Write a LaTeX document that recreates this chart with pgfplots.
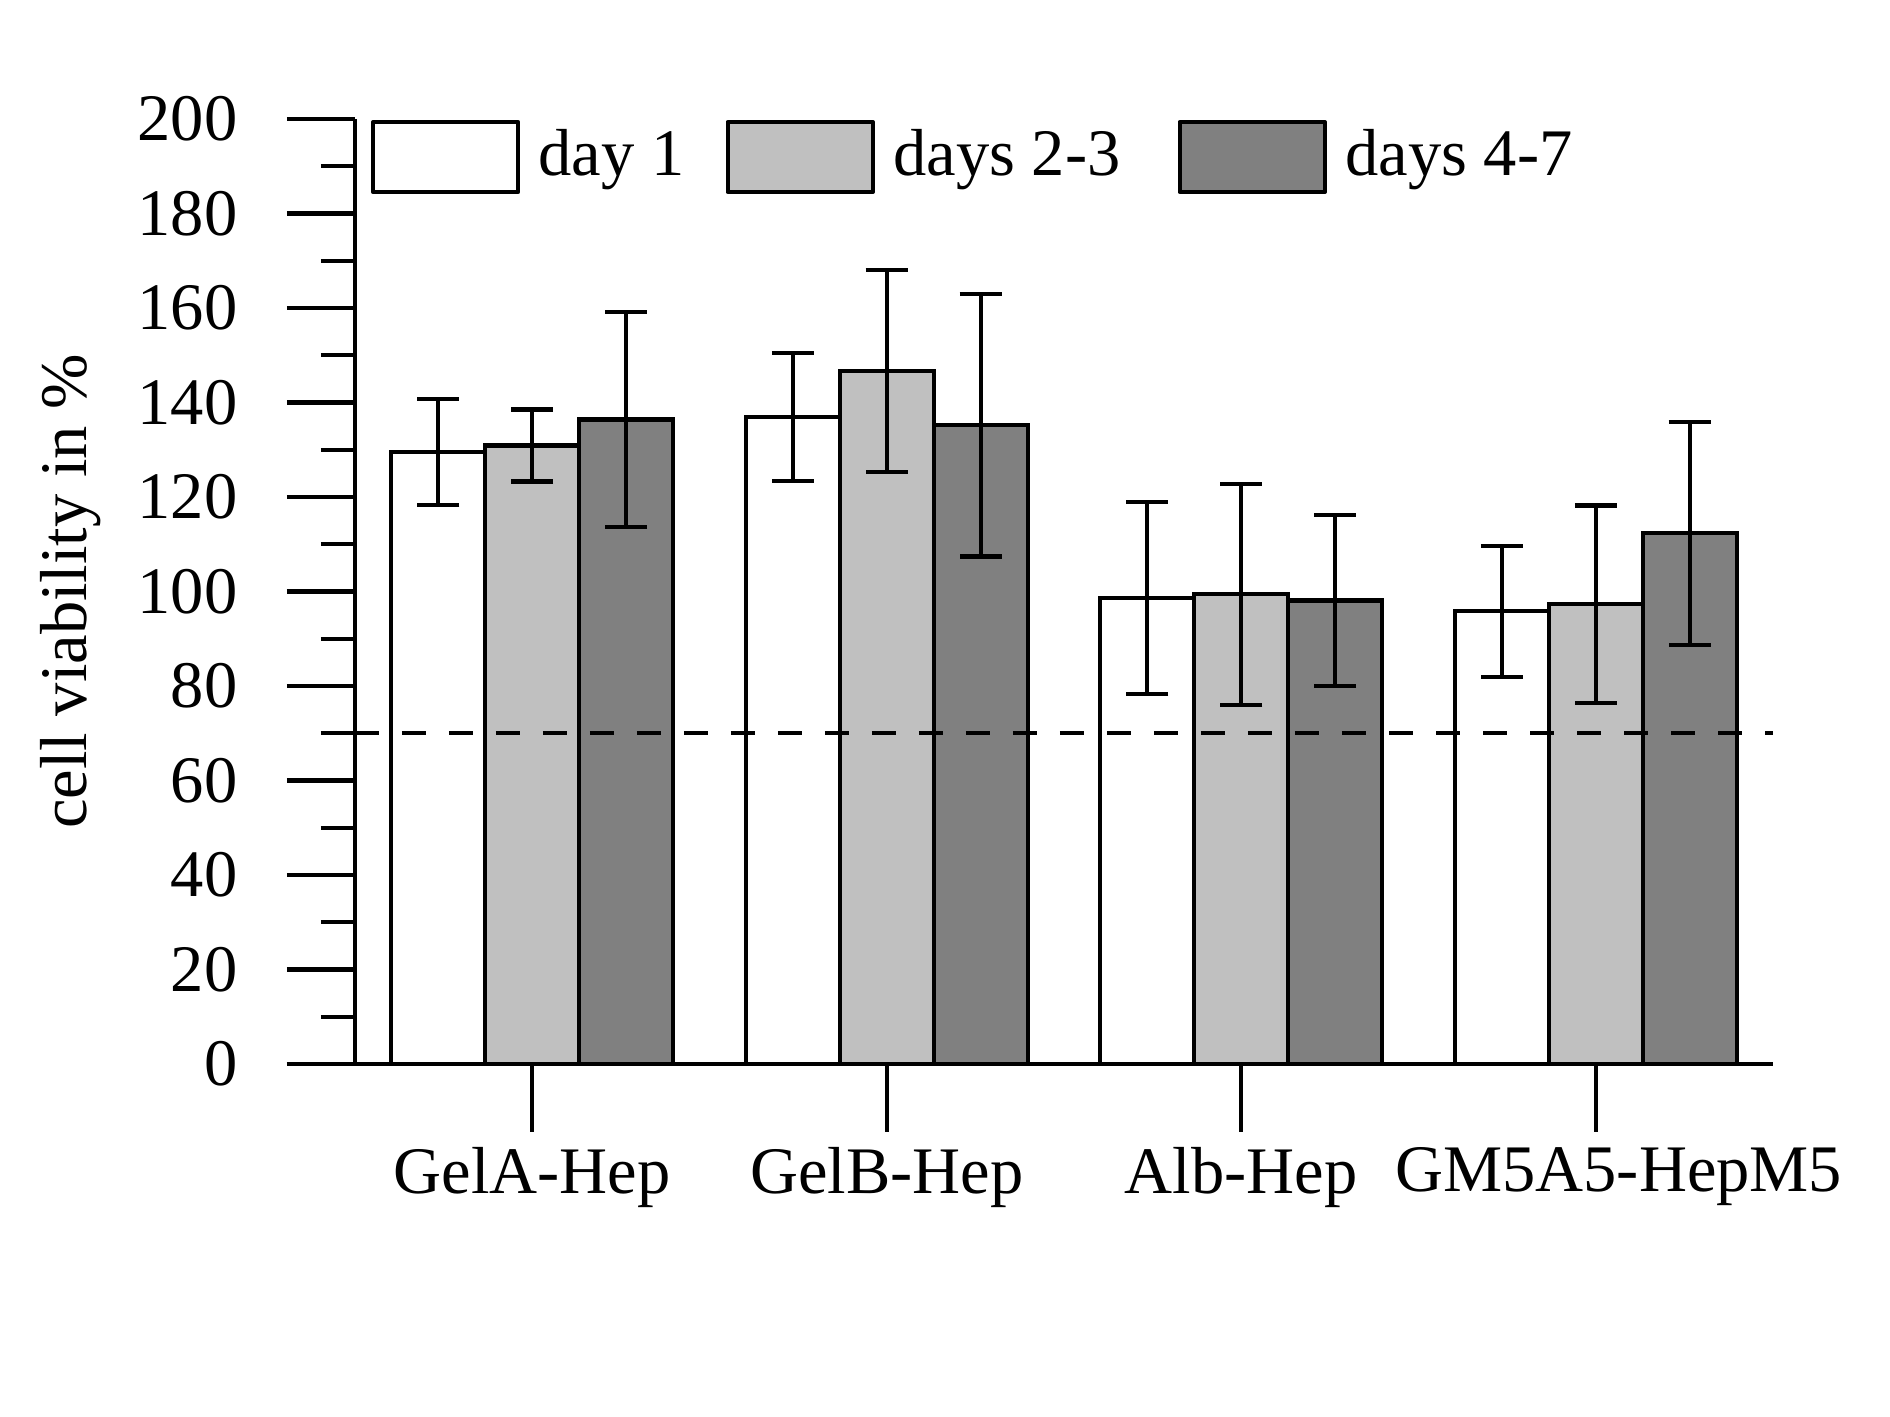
\documentclass[border=0pt]{standalone}
\usepackage{pgfplots}
\pgfplotsset{compat=1.18}
\usepackage{fontspec}
\setmainfont{Liberation Serif}
\definecolor{lightbar}{RGB}{192,192,192}
\definecolor{darkbar}{RGB}{128,128,128}
\begin{document}
\fontsize{13.3}{16}\selectfont
\begin{tikzpicture}
\begin{axis}[
  at={(0,0)}, anchor=south west,
  scale only axis,
  width=283.6pt, height=189pt,
  xmin=-0.5, xmax=3.5,
  ymin=0, ymax=200,
  axis y line*=left,
  axis x line*=bottom,
  x axis line style={draw=none},
  y axis line style={line width=0.85pt},
  clip=false,
  tick align=outside,
  major tick length=13.6pt,
  minor tick length=6.8pt,
  xtick={0,1,2,3},
  xticklabels={GelA-Hep,GelB-Hep,Alb-Hep,\hspace*{9.2pt}GM5A5-HepM5},
  x tick style={line width=0.85pt, black},
  xticklabel style={yshift=1.6pt},
  ytick={0,20,...,200},
  minor ytick={10,30,...,190},
  y tick style={line width=0.85pt, black},
  yticklabel style={xshift=-5.3pt},
  /pgf/number format/assume math mode=true,
  ylabel={cell viability in \%},
  every axis y label/.style={at={(axis description cs:-0.2006,0.5)}, rotate=90, anchor=center},
  ybar=0pt,
  bar width=0.265,
  legend columns=3,
  legend style={draw=none, fill=none, at={(axis description cs:0,1)}, anchor=north west, yshift=2.2pt,
     /tikz/column 1/.style={column sep=1.7pt},
     /tikz/column 2/.style={column sep=6.2pt},
     /tikz/column 3/.style={column sep=1.7pt},
     /tikz/column 4/.style={column sep=9.4pt},
     /tikz/column 5/.style={column sep=1.7pt}},
  legend image code/.code={\draw[#1, line width=0.85pt, line join=round] (0pt,-7pt) rectangle (29pt,7pt);},
  error bars/y dir=both,
  error bars/y explicit,
  error bars/error bar style={line width=0.85pt, black},
  error bars/error mark options={rotate=90, mark size=4.2pt, line width=0.85pt, black},
]
\addplot[fill=white, draw=black, line width=0.85pt] coordinates {
  (0,129.5) +- (0,11.2)
  (1,136.9) +- (0,13.5)
  (2,98.6) +- (0,20.3)
  (3,95.8) +- (0,13.9)
};
\addlegendentry{day 1}
\addplot[fill=lightbar, draw=black, line width=0.85pt] coordinates {
  (0,130.9) +- (0,7.6)
  (1,146.7) +- (0,21.4)
  (2,99.4) +- (0,23.4)
  (3,97.3) +- (0,20.9)
};
\addlegendentry{days 2-3}
\addplot[fill=darkbar, draw=black, line width=0.85pt] coordinates {
  (0,136.4) +- (0,22.7)
  (1,135.2) +- (0,27.8)
  (2,98.1) +- (0,18.1)
  (3,112.3) +- (0,23.6)
};
\addlegendentry{days 4-7}
\addplot[sharp plot, black, line width=0.8pt, dash pattern=on 4.8pt off 4.6pt, forget plot, no markers] coordinates {(-0.5,70) (3.5,70)};
\draw[line width=0.9pt] ([xshift=-13.6pt]rel axis cs:0,0) -- (rel axis cs:1,0);
\end{axis}
\pgfresetboundingbox
\path (-71pt,-70.6pt) rectangle (307pt,212.8pt);
\end{tikzpicture}
\end{document}
